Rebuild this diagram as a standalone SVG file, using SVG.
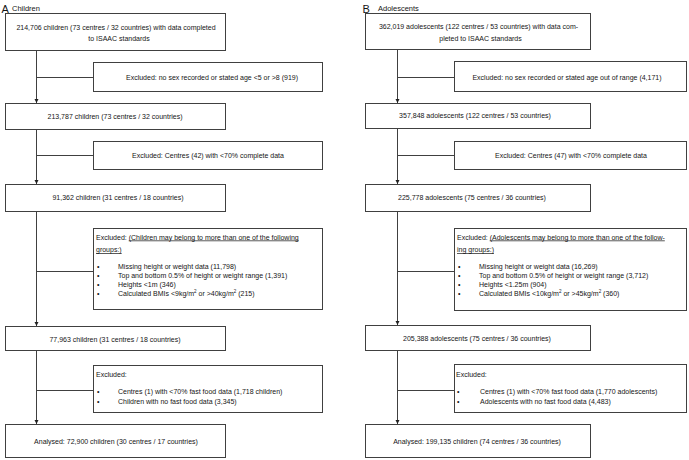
<svg xmlns="http://www.w3.org/2000/svg" width="689" height="460" viewBox="0 0 689 460">
<style>
  text { font-family: "Liberation Sans", Arial, sans-serif; font-size: 7px; fill: #151515; }
  .c { text-anchor: middle; }
  .title { font-size: 11px; }
  .sub { font-size: 7.5px; }
  .box { fill: #ffffff; stroke: #404040; stroke-width: 1; }
  .conn { fill: none; stroke: #404040; stroke-width: 1; }
  .u { text-decoration: underline; }
  .sup { font-size: 4.5px; }
</style>
<defs>
  <marker id="arr" viewBox="0 0 6 6" refX="6" refY="3" markerWidth="4.5" markerHeight="4.5" orient="auto" markerUnits="userSpaceOnUse">
    <path d="M0,0 L6,3 L0,6 z" fill="#202020"/>
  </marker>
</defs>
<rect width="689" height="460" fill="#ffffff"/>

<g id="connectors">
  <line class="conn" x1="36.5" y1="50.5" x2="36.5" y2="103" marker-end="url(#arr)"/>
  <line class="conn" x1="36.5" y1="77.5" x2="93.5" y2="77.5"/>
  <line class="conn" x1="36.5" y1="129.5" x2="36.5" y2="184" marker-end="url(#arr)"/>
  <line class="conn" x1="36.5" y1="155.5" x2="93.5" y2="155.5"/>
  <line class="conn" x1="36.5" y1="211.5" x2="36.5" y2="326" marker-end="url(#arr)"/>
  <line class="conn" x1="36.5" y1="271.5" x2="93.5" y2="271.5"/>
  <line class="conn" x1="36.5" y1="350.5" x2="36.5" y2="424" marker-end="url(#arr)"/>
  <line class="conn" x1="36.5" y1="390.5" x2="93.5" y2="390.5"/>

  <line class="conn" x1="397.5" y1="49.5" x2="397.5" y2="103" marker-end="url(#arr)"/>
  <line class="conn" x1="397.5" y1="77.5" x2="454.5" y2="77.5"/>
  <line class="conn" x1="397.5" y1="128.5" x2="397.5" y2="184" marker-end="url(#arr)"/>
  <line class="conn" x1="397.5" y1="155.5" x2="454.5" y2="155.5"/>
  <line class="conn" x1="397.5" y1="211.5" x2="397.5" y2="325" marker-end="url(#arr)"/>
  <line class="conn" x1="397.5" y1="271.5" x2="454.5" y2="271.5"/>
  <line class="conn" x1="397.5" y1="350.5" x2="397.5" y2="424" marker-end="url(#arr)"/>
  <line class="conn" x1="397.5" y1="390.5" x2="454.5" y2="390.5"/>
</g>

<g id="titleA">
  <text class="title" x="1.5" y="12.5">A</text>
  <text class="sub" x="12" y="11">Children</text>
</g>
<g id="titleB">
  <text class="title" x="362.5" y="12.5">B</text>
  <text class="sub" x="378" y="11">Adolescents</text>
</g>

<!-- Children column -->
<g id="a1">
  <rect class="box" x="5.5" y="13.5" width="220" height="37"/>
  <text class="c" x="116" y="29.5">214,706 children  (73 centres / 32 countries) with data completed</text>
  <text class="c" x="119" y="40.5">to ISAAC standards</text>
</g>
<g id="a1x">
  <rect class="box" x="93.5" y="62.5" width="229" height="29"/>
  <text class="c" x="212" y="79.5">Excluded: no sex recorded or stated age &lt;5 or &gt;8 (919)</text>
</g>
<g id="a2">
  <rect class="box" x="5.5" y="103.5" width="220" height="26"/>
  <text class="c" x="115" y="118.5">213,787 children (73 centres / 32 countries)</text>
</g>
<g id="a2x">
  <rect class="box" x="93.5" y="141.5" width="229" height="28"/>
  <text class="c" x="208" y="157.5">Excluded: Centres (42) with  &lt;70% complete data</text>
</g>
<g id="a3">
  <rect class="box" x="5.5" y="184.5" width="220" height="27"/>
  <text class="c" x="118" y="200">91,362 children (31 centres  / 18 countries)</text>
</g>
<g id="a3x">
  <rect class="box" x="93.5" y="228.5" width="229" height="81"/>
  <text x="96" y="239.5">Excluded: <tspan class="u">(Children may belong to more than one of the following</tspan></text>
  <text x="96" y="252" class="u">groups:)</text>
  <text x="97" y="268.5">•</text>
  <text x="97" y="277.5">•</text>
  <text x="97" y="286.5">•</text>
  <text x="97" y="295.5">•</text>
  <text x="118" y="268.5">Missing height or weight data (11,798)</text>
  <text x="118" y="277.5">Top and bottom 0.5% of height or weight range (1,391)</text>
  <text x="118" y="286.5">Heights &lt;1m  (346)</text>
  <text x="118" y="295.5">Calculated BMIs &lt;9kg/m<tspan class="sup" dy="-3">2</tspan><tspan dy="3"> or &gt;40kg/m</tspan><tspan class="sup" dy="-3">2</tspan><tspan dy="3"> (215)</tspan></text>
</g>
<g id="a4">
  <rect class="box" x="5.5" y="326.5" width="220" height="24"/>
  <text class="c" x="115" y="341.5">77,963  children (31 centres / 18 countries)</text>
</g>
<g id="a4x">
  <rect class="box" x="93.5" y="365.5" width="229" height="47"/>
  <text x="96" y="376.5">Excluded:</text>
  <text x="97" y="393.5">•</text>
  <text x="97" y="403.5">•</text>
  <text x="118" y="393.5">Centres (1) with &lt;70% fast food data (1,718 children)</text>
  <text x="118" y="403.5">Children with no fast food data  (3,345)</text>
</g>
<g id="a5">
  <rect class="box" x="5.5" y="424.5" width="220" height="33"/>
  <text class="c" x="116" y="443.5">Analysed: 72,900 children (30 centres / 17 countries)</text>
</g>

<!-- Adolescents column -->
<g id="b1">
  <rect class="box" x="365.5" y="13.5" width="225" height="36"/>
  <text class="c" x="478.5" y="28.5">362,019 adolescents  (122 centres / 53 countries) with data com-</text>
  <text class="c" x="480.5" y="40.5">pleted to ISAAC standards</text>
</g>
<g id="b1x">
  <rect class="box" x="454.5" y="61.5" width="232" height="30"/>
  <text class="c" x="567" y="79.5">Excluded: no sex recorded or stated age out of range (4,171)</text>
</g>
<g id="b2">
  <rect class="box" x="365.5" y="103.5" width="225" height="25"/>
  <text class="c" x="475" y="118">357,848 adolescents  (122 centres / 53 countries)</text>
</g>
<g id="b2x">
  <rect class="box" x="454.5" y="141.5" width="232" height="28"/>
  <text class="c" x="571" y="157.5">Excluded: Centres (47) with  &lt;70% complete data</text>
</g>
<g id="b3">
  <rect class="box" x="365.5" y="184.5" width="225" height="27"/>
  <text class="c" x="472" y="200">225,778 adolescents (75 centres  / 36 countries)</text>
</g>
<g id="b3x">
  <rect class="box" x="454.5" y="228.5" width="232" height="82"/>
  <text x="457" y="239.5">Excluded: <tspan class="u">(Adolescents may belong to more than one of the follow-</tspan></text>
  <text x="457" y="252" class="u">ing groups:)</text>
  <text x="458" y="268.5">•</text>
  <text x="458" y="277.5">•</text>
  <text x="458" y="286.5">•</text>
  <text x="458" y="295.5">•</text>
  <text x="479" y="268.5">Missing height or weight data (16,269)</text>
  <text x="479" y="277.5">Top and bottom 0.5% of height or weight range (3,712)</text>
  <text x="479" y="286.5">Heights &lt;1.25m  (904)</text>
  <text x="479" y="295.5">Calculated BMIs &lt;10kg/m<tspan class="sup" dy="-3">2</tspan><tspan dy="3"> or &gt;45kg/m</tspan><tspan class="sup" dy="-3">2</tspan><tspan dy="3"> (360)</tspan></text>
</g>
<g id="b4">
  <rect class="box" x="365.5" y="325.5" width="225" height="25"/>
  <text class="c" x="477" y="341">205,388 adolescents (75 centres / 36 countries)</text>
</g>
<g id="b4x">
  <rect class="box" x="454.5" y="364.5" width="232" height="48"/>
  <text x="456" y="376.5">Excluded:</text>
  <text x="457" y="393.5">•</text>
  <text x="457" y="403.5">•</text>
  <text x="480" y="393.5">Centres (1) with &lt;70% fast food data (1,770 adolescents)</text>
  <text x="480" y="403.5">Adolescents with no fast food data  (4,483)</text>
</g>
<g id="b5">
  <rect class="box" x="365.5" y="424.5" width="225" height="33"/>
  <text class="c" x="477" y="443.5">Analysed: 199,135 children (74 centres / 36 countries)</text>
</g>
</svg>
